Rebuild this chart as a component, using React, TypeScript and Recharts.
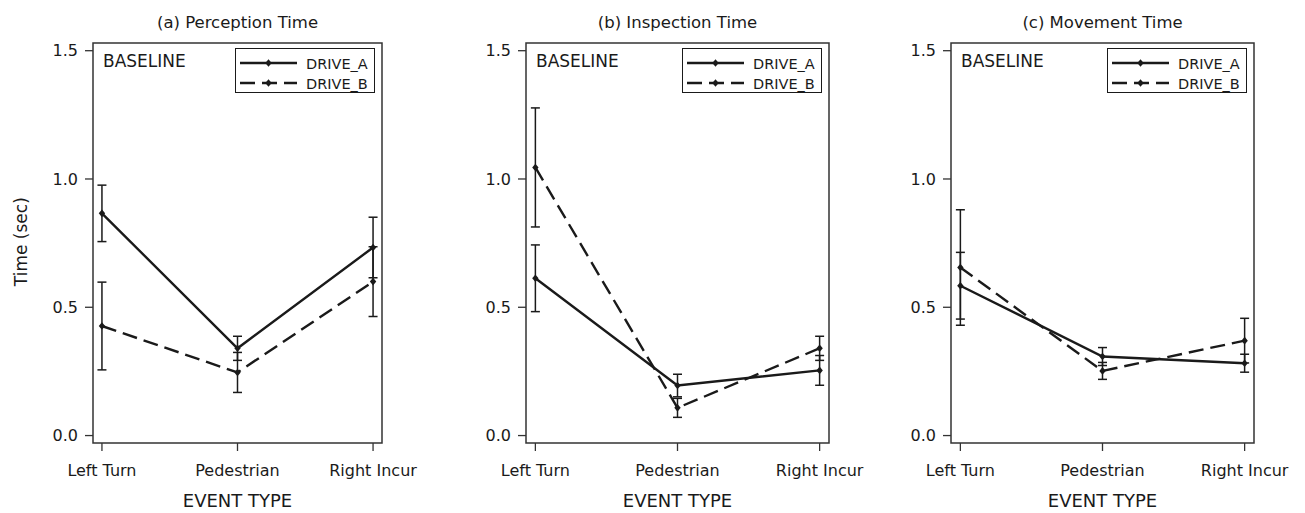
import {
  ErrorBar,
  Legend,
  Line,
  LineChart,
  ReferenceArea,
  XAxis,
  YAxis
} from "recharts";

const categories = ["Left Turn", "Pedestrian", "Right Incur"];
const seriesNames = ["DRIVE_A", "DRIVE_B"];
const yTicks = [0, 0.5, 1.0, 1.5];
const panelTitles = ["(a) Perception Time", "(b) Inspection Time", "(c) Movement Time"];

const perceptionA = [0.866, 0.34, 0.733];
const perceptionAErr = [0.11, 0.047, 0.118];
const perceptionB = [0.427, 0.246, 0.6];
const perceptionBErr = [0.171, 0.078, 0.136];

const inspectionA = [0.613, 0.195, 0.254];
const inspectionAErr = [0.13, 0.044, 0.058];
const inspectionB = [1.045, 0.108, 0.34];
const inspectionBErr = [0.232, 0.037, 0.047];

const movementA = [0.584, 0.308, 0.282];
const movementAErr = [0.13, 0.035, 0.035];
const movementB = [0.655, 0.252, 0.37];
const movementBErr = [0.225, 0.033, 0.087];

const X_DOMAIN: [number, number] = [-0.066, 2.066];
const Y_DOMAIN: [number, number] = [-0.029, 1.53];
const INK = "#1a1a1a";
const FONT = "DejaVu Sans, sans-serif";
const DASH = "15 7";

function buildRows(a: number[], aErr: number[], b: number[], bErr: number[]) {
  return categories.map((name, i) => ({
    x: i,
    name,
    a: a[i],
    aErr: aErr[i],
    b: b[i],
    bErr: bErr[i]
  }));
}

const panels = [
  { title: panelTitles[0], rows: buildRows(perceptionA, perceptionAErr, perceptionB, perceptionBErr), left: 0, axisW: 93, width: 430, boxLeft: 93, boxRight: 382 },
  { title: panelTitles[1], rows: buildRows(inspectionA, inspectionAErr, inspectionB, inspectionBErr), left: 430, axisW: 96, width: 447, boxLeft: 526, boxRight: 829 },
  { title: panelTitles[2], rows: buildRows(movementA, movementAErr, movementB, movementBErr), left: 860, axisW: 91, width: 445, boxLeft: 951, boxRight: 1254 }
];

const Diamond = (props: any) => {
  const { cx, cy } = props;
  if (cx == null || cy == null) return null;
  return <path d={`M${cx},${cy - 3.8}L${cx + 3.2},${cy}L${cx},${cy + 3.8}L${cx - 3.2},${cy}Z`} fill={INK} />;
};

function LegendBox() {
  return (
    <div style={{ width: 138, height: 43, border: `1.5px solid ${INK}`, background: "#fff" }}>
      <svg width={138} height={43} style={{ display: "block" }}>
        {seriesNames.map((name, i) => {
          const y = 14 + i * 20;
          return (
            <g key={name}>
              <line x1={4} x2={61} y1={y} y2={y} stroke={INK} strokeWidth={2.4} strokeDasharray={i === 1 ? DASH : undefined} />
              <path d={`M32.5,${y - 3.8}L35.7,${y}L32.5,${y + 3.8}L29.3,${y}Z`} fill={INK} />
              <text x={70} y={y + 5.5} fontSize={14.5} fontFamily={FONT} fill={INK}>{name}</text>
            </g>
          );
        })}
      </svg>
    </div>
  );
}

function Panel({ panel }: { panel: (typeof panels)[number] }) {
  const right = panel.left + panel.width - panel.boxRight;
  return (
    <div style={{ position: "absolute", left: panel.left, top: 0 }}>
      <LineChart width={panel.width} height={513} data={panel.rows} margin={{ top: 43, right, bottom: 0, left: 0 }}>
        <XAxis
          type="number"
          dataKey="x"
          domain={X_DOMAIN}
          allowDataOverflow
          ticks={[0, 1, 2]}
          interval={0}
          tickFormatter={(v) => categories[v] ?? ""}
          axisLine={false}
          tickLine={{ stroke: "#333", strokeWidth: 1.3 }}
          tickSize={8}
          tickMargin={14}
          height={70}
          tick={{ fontSize: 16, fill: INK, fontFamily: FONT }}
          label={{ value: "EVENT TYPE", position: "insideBottom", offset: 6, style: { fontSize: 18, fill: INK, fontFamily: FONT } }}
        />
        <YAxis
          type="number"
          domain={Y_DOMAIN}
          allowDataOverflow
          ticks={yTicks}
          interval={0}
          tickFormatter={(v) => v.toFixed(1)}
          axisLine={false}
          tickLine={{ stroke: "#333", strokeWidth: 1.3 }}
          tickSize={8}
          tickMargin={7}
          width={panel.axisW}
          tick={{ fontSize: 16, fill: INK, fontFamily: FONT }}
        />
        <ReferenceArea x1={X_DOMAIN[0]} x2={X_DOMAIN[1]} y1={Y_DOMAIN[0]} y2={Y_DOMAIN[1]} fill="none" stroke="#333" strokeWidth={1.5} ifOverflow="visible" />
        <Line dataKey="a" stroke={INK} strokeWidth={2.4} dot={<Diamond />} activeDot={false} isAnimationActive={false}>
          <ErrorBar dataKey="aErr" width={4.5} stroke={INK} strokeWidth={1.5} direction="y" isAnimationActive={false} />
        </Line>
        <Line dataKey="b" stroke={INK} strokeWidth={2.4} strokeDasharray={DASH} dot={<Diamond />} activeDot={false} isAnimationActive={false}>
          <ErrorBar dataKey="bErr" width={4.5} stroke={INK} strokeWidth={1.5} direction="y" isAnimationActive={false} />
        </Line>
        <Legend
          layout="horizontal"
          verticalAlign="middle"
          align="center"
          content={() => <LegendBox />}
          wrapperStyle={{ left: panel.boxRight - panel.left - 147, top: 48, width: 141, height: 46 }}
        />
      </LineChart>
    </div>
  );
}

export default function App() {
  return (
    <div style={{ position: "absolute", left: 0, top: 0, width: 1305, height: 513, background: "#fff", overflow: "hidden" }}>
      {panels.map((p) => (
        <Panel key={p.title} panel={p} />
      ))}
      <svg width={1305} height={513} style={{ position: "absolute", left: 0, top: 0, pointerEvents: "none" }}>
        {panels.map((p) => (
          <g key={p.title}>
            <text x={(p.boxLeft + p.boxRight) / 2} y={27.5} textAnchor="middle" fontSize={16.5} fontFamily={FONT} fill={INK}>
              {p.title}
            </text>
            <text x={p.boxLeft + 10} y={66.5} fontSize={17} fontFamily={FONT} fill={INK}>
              BASELINE
            </text>
          </g>
        ))}
        <text transform="translate(27,241.7) rotate(-90)" textAnchor="middle" fontSize={17} fontFamily={FONT} fill={INK}>
          Time (sec)
        </text>
      </svg>
    </div>
  );
}
